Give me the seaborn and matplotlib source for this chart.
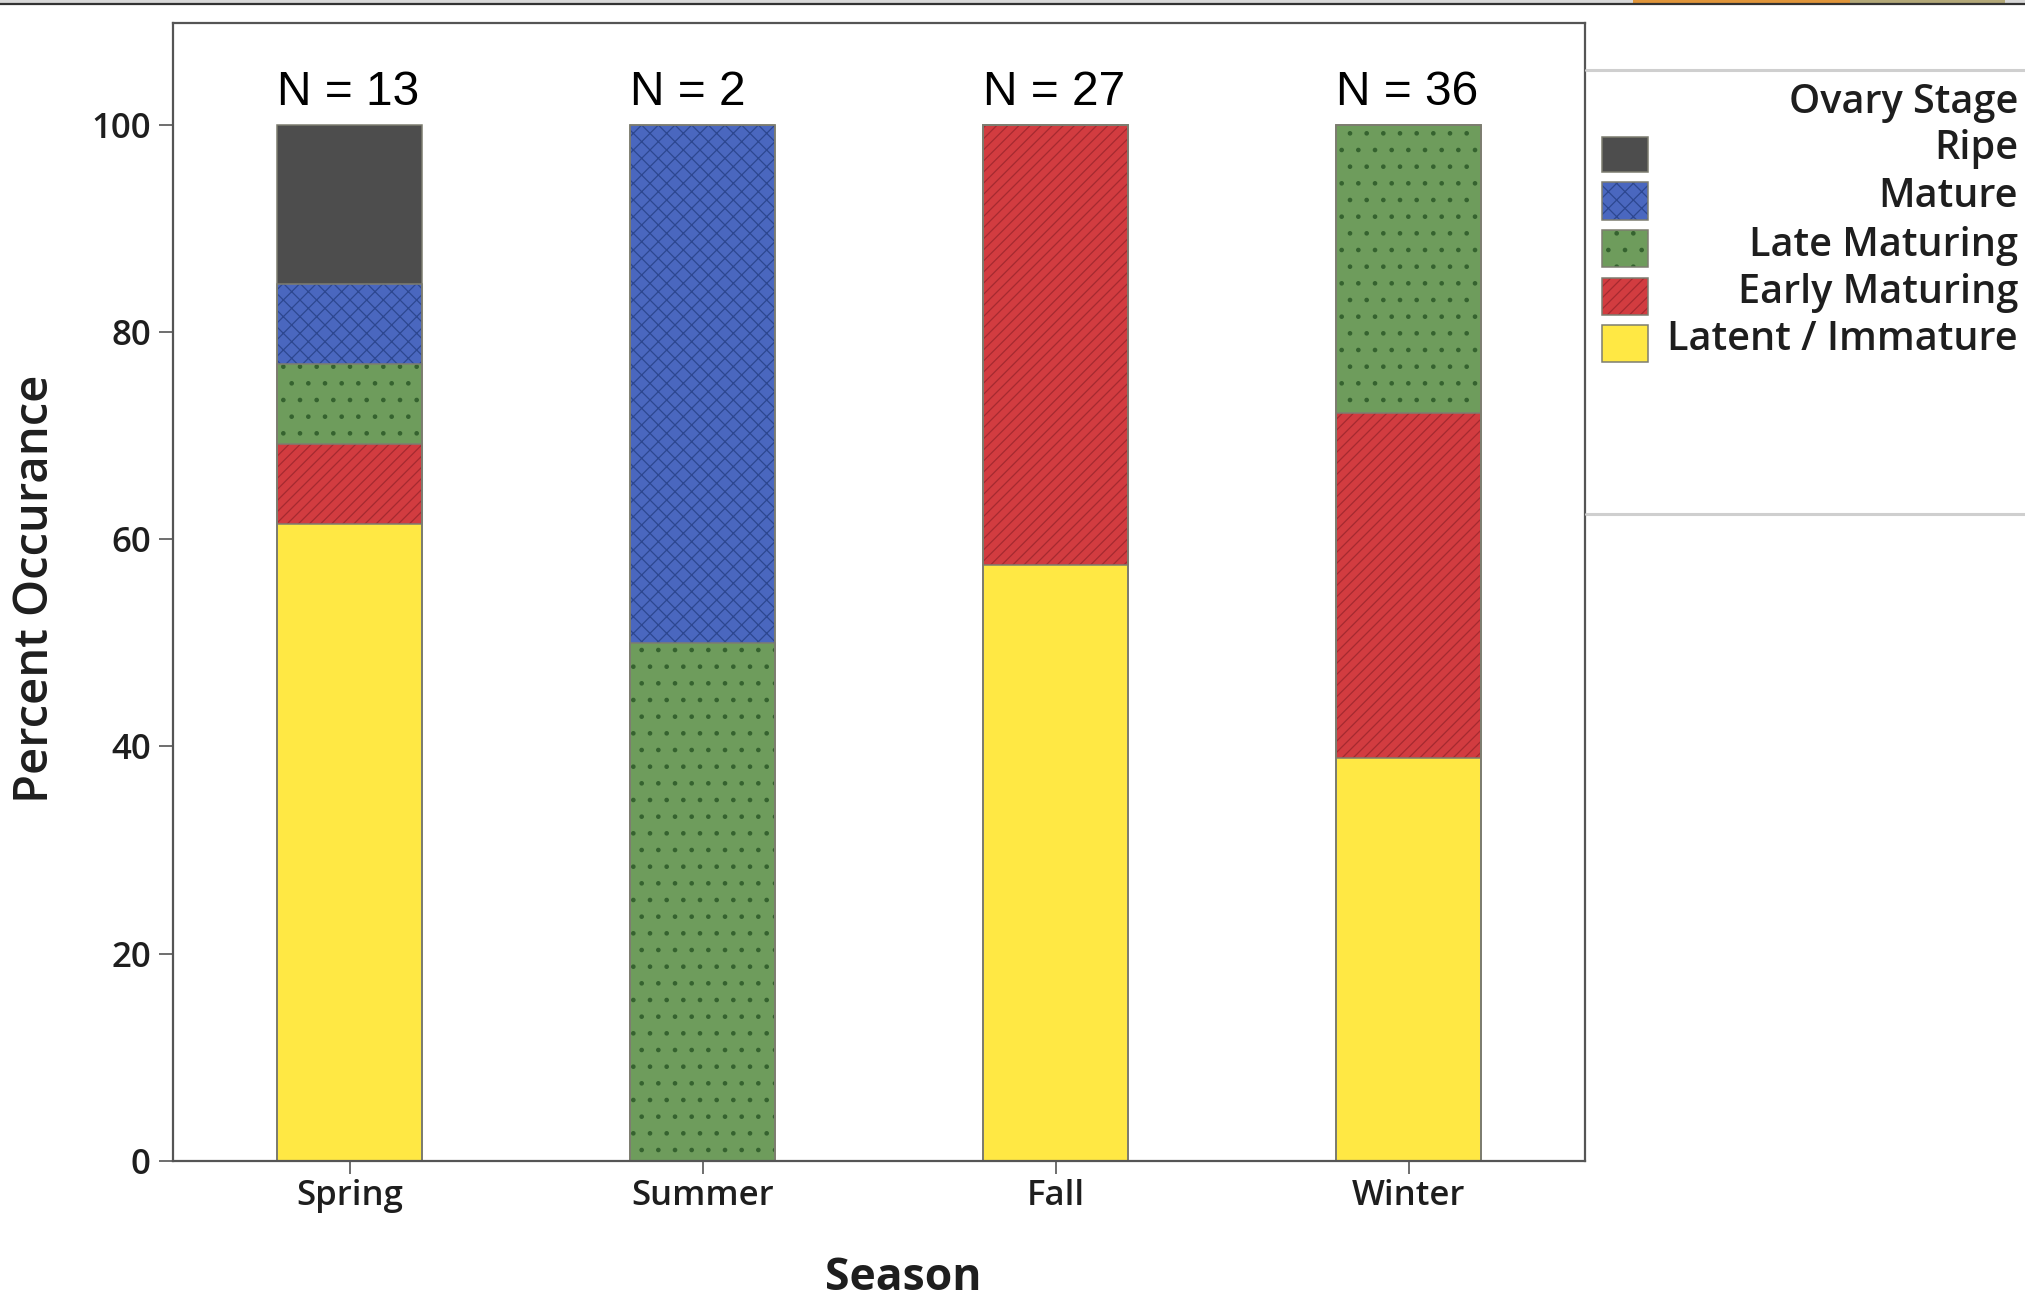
import numpy as np
import pandas as pd
import matplotlib.pyplot as plt
import seaborn as sns
from matplotlib.patches import Rectangle
from matplotlib.lines import Line2D

seasons = ['Spring', 'Summer', 'Fall', 'Winter']
n_counts = [13, 2, 27, 36]
# stages from bottom to top of each bar
stages = ['Latent / Immature', 'Early Maturing', 'Late Maturing', 'Mature', 'Ripe']
latent = [61.5, 0, 57.5, 38.9]
early = [7.7, 0, 42.5, 33.3]
late = [7.7, 50, 0, 27.8]
mature = [7.7, 50, 0, 0]
ripe = [15.4, 0, 0, 0]

face_colors = ['#ffe844', '#d23c40', '#6e9c5c', '#4a67bf', '#4d4d4d']
hatch_colors = ['#ffe844', '#a52a30', '#35622f', '#2d4790', '#4d4d4d']
hatches = ['', '///', '.', 'xx', '']

sns.set_theme(style='white')
plt.rcParams['font.family'] = ['Open Sans', 'DejaVu Sans']
plt.rcParams['hatch.linewidth'] = 0.9
txt_w = 'semibold'

df = pd.DataFrame({'Season': seasons, 'Latent / Immature': latent,
                   'Early Maturing': early, 'Late Maturing': late,
                   'Mature': mature, 'Ripe': ripe})
cum = df[stages].cumsum(axis=1)
cum['Season'] = seasons

W, H = 2025, 1299
fig = plt.figure(figsize=(W / 100, H / 100), dpi=100)
ax = fig.add_axes([173 / W, 1 - 1161 / H, (1585 - 173) / W, (1161 - 23) / H])

bar_w = 0.41
# stacked bars: draw the tallest cumulative layer first
for stage, fc, hc, h in reversed(list(zip(stages, face_colors, hatch_colors, hatches))):
    sns.barplot(data=cum, x='Season', y=stage, order=seasons, color=fc,
                width=bar_w, errorbar=None, ax=ax, hatch=h, edgecolor=hc,
                linewidth=0, saturation=1)
    for p in ax.patches[-len(seasons):]:
        p.set_facecolor(fc)
for stage in stages:
    sns.barplot(data=cum, x='Season', y=stage, order=seasons, color='#7d7d70',
                width=bar_w, errorbar=None, ax=ax, fill=False, linewidth=1.1)

for i, n in enumerate(n_counts):
    ax.text(i - bar_w / 2, 101.9, f'N = {n}', ha='left', va='baseline', fontsize=34.5,
            family=['Liberation Sans', 'DejaVu Sans'], color='black')

ax.set_xlim(-0.5, 3.5)
ax.set_ylim(0, 109.8)
ax.set_yticks([0, 20, 40, 60, 80, 100])
ax.tick_params(axis='y', labelsize=25, length=10, width=1.2, color='#555555',
               labelcolor='#1e1e1e', direction='out', left=True, pad=6)
ax.tick_params(axis='x', labelsize=25, length=9, width=1.2, color='#555555',
               labelcolor='#1e1e1e', direction='out', bottom=True, pad=4)
for lab in ax.get_xticklabels() + ax.get_yticklabels():
    lab.set_fontweight(txt_w)
for s in ax.spines.values():
    s.set_color('#555555')
    s.set_linewidth(1.6)

ax.set_xlabel('Season', fontsize=32, fontweight='bold', color='#1e1e1e')
ax.xaxis.set_label_coords((903 - 173) / 1412, -(1279 - 1161) / 1138)
ax.xaxis.label.set_va('center')
ax.set_ylabel('Percent Occurance', fontsize=34, fontweight=txt_w, color='#1e1e1e')
ax.yaxis.set_label_coords((36 - 173) / 1412, (1161 - 589) / 1138)
ax.yaxis.label.set_va('center')


def fx(px):
    return px / W


def fy(py):
    return 1 - py / H


# legend panel
for y in (70, 514):
    fig.add_artist(Line2D([fx(1586), 1], [fy(y), fy(y)], color='#cfcfcf', lw=2.2))
fig.text(fx(2018), fy(113), 'Ovary Stage', ha='right', va='baseline',
         fontsize=28.5, fontweight=txt_w, color='#1e1e1e')
rows = [(137, 172, 159), (182, 220, 207), (230, 267, 256), (278, 315, 303), (325, 362, 350)]
for (top, bot, base), stage, fc, hc, h in zip(rows, reversed(stages), reversed(face_colors),
                                              reversed(hatch_colors), reversed(hatches)):
    fig.add_artist(Rectangle((fx(1602), fy(bot)), fx(46), (bot - top) / H,
                             facecolor=fc, edgecolor=hc, hatch=h, lw=0))
    fig.add_artist(Rectangle((fx(1602), fy(bot)), fx(46), (bot - top) / H,
                             facecolor='none', edgecolor='#7d7d70', lw=1.1))
    fig.text(fx(2018), fy(base), stage, ha='right', va='baseline',
             fontsize=28.5, fontweight=txt_w, color='#1e1e1e')

# thin strip at the top of the screenshot
fig.add_artist(Rectangle((0, fy(3)), 1, 3 / H, facecolor='#d8d8d8', lw=0))
fig.add_artist(Rectangle((fx(1633), fy(3)), fx(217), 3 / H, facecolor='#e0953a', lw=0))
fig.add_artist(Rectangle((fx(1850), fy(3)), fx(155), 3 / H, facecolor='#b3a878', lw=0))
fig.add_artist(Line2D([0, 1], [fy(4), fy(4)], color='#333333', lw=1.6))

fig.savefig('out.png', dpi=100)
